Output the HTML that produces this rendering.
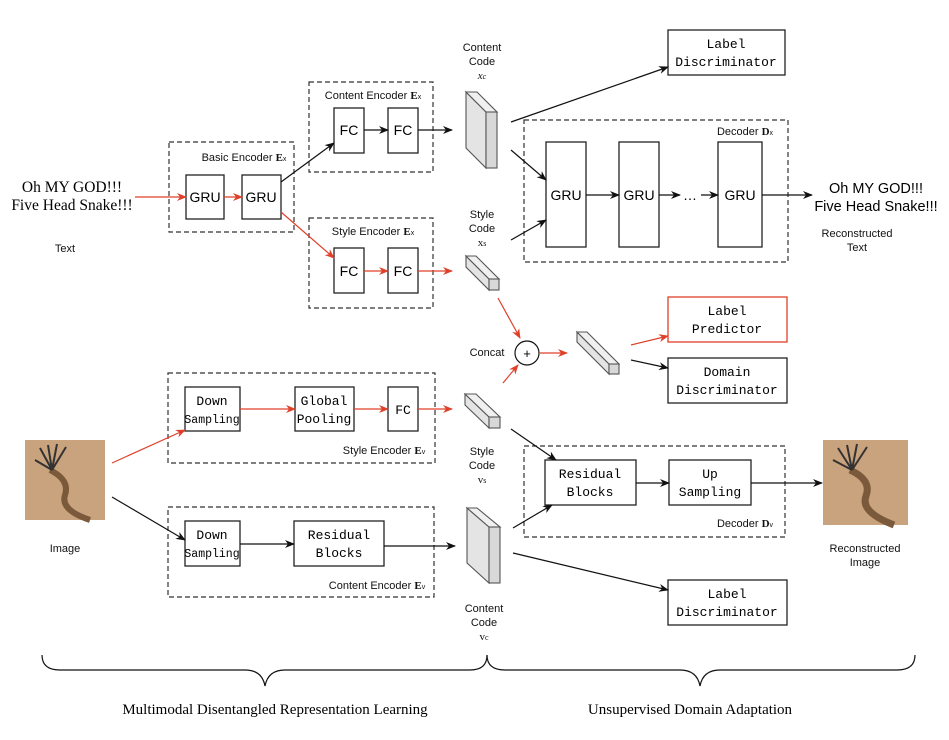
<!DOCTYPE html>
<html><head><meta charset="utf-8"><style>
body{margin:0;background:#fff}
svg{display:block}
.s{font-family:"Liberation Sans",sans-serif}
.m{font-family:"Liberation Mono",monospace}
.r{font-family:"Liberation Serif",serif}
</style></head><body>
<svg width="949" height="740" viewBox="0 0 949 740" xmlns="http://www.w3.org/2000/svg">
<defs>
<marker id="ab" markerWidth="10" markerHeight="8" refX="9" refY="4" orient="auto" markerUnits="userSpaceOnUse"><path d="M0,0 L10,4 L0,8 L3,4z" fill="#111"/></marker>
<marker id="ar" markerWidth="10" markerHeight="8" refX="9" refY="4" orient="auto" markerUnits="userSpaceOnUse"><path d="M0,0 L10,4 L0,8 L3,4z" fill="#e0402a"/></marker>
</defs>
<g fill="none" stroke="#333" stroke-width="1.2" stroke-dasharray="5,3">
<rect x="169" y="142" width="125" height="90"/>
<rect x="309" y="82" width="124" height="90"/>
<rect x="309" y="218" width="124" height="90"/>
<rect x="524" y="120" width="264" height="142"/>
<rect x="168" y="373" width="267" height="90"/>
<rect x="168" y="507" width="266" height="90"/>
<rect x="524" y="446" width="261" height="91"/>
</g>
<g fill="#fff" stroke="#222" stroke-width="1.3">
<rect x="186" y="175" width="38" height="44"/><rect x="242" y="175" width="39" height="44"/>
<rect x="334" y="108" width="30" height="45"/><rect x="388" y="108" width="30" height="45"/>
<rect x="334" y="248" width="30" height="45"/><rect x="388" y="248" width="30" height="45"/>
<rect x="546" y="142" width="40" height="105"/><rect x="619" y="142" width="40" height="105"/><rect x="718" y="142" width="44" height="105"/>
<rect x="668" y="30" width="117" height="45"/>
<rect x="668" y="297" width="119" height="45" stroke="#e0402a"/>
<rect x="668" y="358" width="119" height="45"/>
<rect x="668" y="580" width="119" height="45"/>
<rect x="185" y="387" width="55" height="44"/><rect x="295" y="387" width="59" height="44"/><rect x="388" y="387" width="30" height="44"/>
<rect x="185" y="521" width="55" height="45"/><rect x="294" y="521" width="90" height="45"/>
<rect x="545" y="460" width="91" height="45"/><rect x="669" y="460" width="82" height="45"/>
</g>
<g stroke="#555" stroke-width="1.1">
<path d="M466,92 L486,112 L486,168 L466,148z" fill="#e4e4e4"/><path d="M466,92 L477,92 L497,112 L486,112z" fill="#f0f0f0"/><rect x="486" y="112" width="11" height="56" fill="#d8d8d8"/>
<path d="M466,256 L489,279 L489,290 L466,267z" fill="#e4e4e4"/><path d="M466,256 L476,256 L499,279 L489,279z" fill="#f0f0f0"/><rect x="489" y="279" width="10" height="11" fill="#d8d8d8"/>
<path d="M577,332 L609,364 L609,374 L577,342z" fill="#e4e4e4"/><path d="M577,332 L587,332 L619,364 L609,364z" fill="#f0f0f0"/><rect x="609" y="364" width="10" height="10" fill="#d8d8d8"/>
<path d="M465,394 L489,417 L489,428 L465,405z" fill="#e4e4e4"/><path d="M465,394 L476,394 L500,417 L489,417z" fill="#f0f0f0"/><rect x="489" y="417" width="11" height="11" fill="#d8d8d8"/>
<path d="M467,508 L489,527 L489,583 L467,563z" fill="#e4e4e4"/><path d="M467,508 L477,508 L500,527 L489,527z" fill="#f0f0f0"/><rect x="489" y="527" width="11" height="56" fill="#d8d8d8"/>
</g>
<circle cx="527" cy="353" r="12" fill="#fff" stroke="#111" stroke-width="1.2"/>
<text x="527" y="358" class="s" font-size="13" text-anchor="middle">+</text>
<g stroke="#111" stroke-width="1.2" marker-end="url(#ab)">
<line x1="281" y1="182" x2="334" y2="143"/>
<line x1="364" y1="130" x2="388" y2="130"/><line x1="418" y1="130" x2="452" y2="130"/>
<line x1="511" y1="122" x2="668" y2="67"/>
<line x1="511" y1="150" x2="546" y2="180"/>
<line x1="511" y1="240" x2="546" y2="220"/>
<line x1="586" y1="195" x2="619" y2="195"/><line x1="659" y1="195" x2="680" y2="195"/><line x1="701" y1="195" x2="718" y2="195"/>
<line x1="762" y1="195" x2="812" y2="195"/>
<line x1="631" y1="360" x2="668" y2="368"/>
<line x1="112" y1="497" x2="185" y2="540"/>
<line x1="240" y1="544" x2="294" y2="544"/><line x1="384" y1="546" x2="455" y2="546"/>
<line x1="511" y1="429" x2="556" y2="460"/>
<line x1="513" y1="528" x2="552" y2="505"/>
<line x1="513" y1="553" x2="668" y2="590"/>
<line x1="636" y1="483" x2="669" y2="483"/><line x1="751" y1="483" x2="822" y2="483"/>
</g>
<g stroke="#e0402a" stroke-width="1.2" marker-end="url(#ar)">
<line x1="135" y1="197" x2="186" y2="197"/>
<line x1="224" y1="197" x2="242" y2="197"/>
<line x1="281" y1="212" x2="334" y2="258"/>
<line x1="364" y1="271" x2="388" y2="271"/><line x1="418" y1="271" x2="452" y2="271"/>
<line x1="498" y1="298" x2="520" y2="338"/>
<line x1="503" y1="383" x2="518" y2="365"/>
<line x1="540" y1="353" x2="567" y2="353"/>
<line x1="631" y1="345" x2="668" y2="336"/>
<line x1="112" y1="463" x2="185" y2="430"/>
<line x1="240" y1="409" x2="295" y2="409"/><line x1="354" y1="409" x2="388" y2="409"/><line x1="418" y1="409" x2="452" y2="409"/>
</g>
<g>
<rect x="25" y="440" width="80" height="80" fill="#c9a27e"/>
<path d="M50,470 Q70,480 65,495 Q60,510 90,520" stroke="#7a5a3a" stroke-width="6" fill="none"/>
<g stroke="#333" stroke-width="2"><line x1="52" y1="470" x2="40" y2="448"/><line x1="52" y1="470" x2="48" y2="445"/><line x1="52" y1="470" x2="57" y2="444"/><line x1="52" y1="470" x2="66" y2="447"/><line x1="52" y1="470" x2="35" y2="460"/></g>
<rect x="823" y="440" width="85" height="85" fill="#c9a27e"/>
<path d="M850,470 Q872,480 866,496 Q860,512 894,525" stroke="#7a5a3a" stroke-width="7" fill="none"/>
<g stroke="#333" stroke-width="2"><line x1="852" y1="470" x2="838" y2="448"/><line x1="852" y1="470" x2="847" y2="445"/><line x1="852" y1="470" x2="857" y2="444"/><line x1="852" y1="470" x2="867" y2="447"/><line x1="852" y1="470" x2="833" y2="460"/></g>
</g>
<g fill="none" stroke="#111" stroke-width="1.2">
<path d="M42,655 Q42,670 60,670 L245,670 Q262,670 265,686 Q268,670 285,670 L470,670 Q487,670 487,655"/>
<path d="M487,655 Q487,670 505,670 L680,670 Q697,670 700,686 Q703,670 720,670 L897,670 Q915,670 915,655"/>
</g>
<g class="r" font-size="15.5" text-anchor="middle">
<text x="72" y="192">Oh MY GOD!!!</text><text x="72" y="210">Five Head Snake!!!</text>
</g>
<g class="s" font-size="14.5" text-anchor="middle">
<text x="876" y="193">Oh MY GOD!!!</text><text x="876" y="211">Five Head Snake!!!</text>
</g>
<g class="s" font-size="11" text-anchor="middle" fill="#111">
<text x="65" y="252">Text</text>
<text x="65" y="552">Image</text>
<text x="857" y="237">Reconstructed</text><text x="857" y="251">Text</text>
<text x="865" y="552">Reconstructed</text><text x="865" y="566">Image</text>
<text x="482" y="51">Content</text><text x="482" y="65">Code</text><text x="482" y="79" class="r" font-style="italic">x<tspan font-size="8">c</tspan></text>
<text x="482" y="218">Style</text><text x="482" y="232">Code</text><text x="482" y="246" class="r">x<tspan font-size="8">s</tspan></text>
<text x="482" y="455">Style</text><text x="482" y="469">Code</text><text x="482" y="483" class="r">v<tspan font-size="8">s</tspan></text>
<text x="484" y="612">Content</text><text x="484" y="626">Code</text><text x="484" y="640" class="r">v<tspan font-size="8">c</tspan></text>
<text x="487" y="356">Concat</text>
<text x="244" y="161">Basic Encoder <tspan class="r" font-weight="bold">E</tspan><tspan font-size="7">x</tspan></text>
<text x="373" y="99">Content Encoder <tspan class="r" font-weight="bold">E</tspan><tspan font-size="7">x</tspan></text>
<text x="373" y="235">Style Encoder <tspan class="r" font-weight="bold">E</tspan><tspan font-size="7">x</tspan></text>
<text x="384" y="454">Style Encoder <tspan class="r" font-weight="bold">E</tspan><tspan font-size="7">v</tspan></text>
<text x="377" y="589">Content Encoder <tspan class="r" font-weight="bold">E</tspan><tspan font-size="7">v</tspan></text>
<text x="745" y="135">Decoder <tspan class="r" font-weight="bold">D</tspan><tspan font-size="7">x</tspan></text>
<text x="745" y="527">Decoder <tspan class="r" font-weight="bold">D</tspan><tspan font-size="7">v</tspan></text>
</g>
<g class="s" font-size="14" text-anchor="middle">
<text x="205" y="202">GRU</text><text x="261" y="202">GRU</text>
<text x="349" y="135">FC</text><text x="403" y="135">FC</text>
<text x="349" y="276">FC</text><text x="403" y="276">FC</text>
<text x="566" y="200">GRU</text><text x="639" y="200">GRU</text><text x="740" y="200">GRU</text>
<text x="690" y="200">…</text>
</g>
<g class="m" font-size="13" text-anchor="middle">
<text x="726" y="48">Label</text><text x="726" y="66">Discriminator</text>
<text x="727" y="315">Label</text><text x="727" y="333">Predictor</text>
<text x="727" y="376">Domain</text><text x="727" y="394">Discriminator</text>
<text x="727" y="598">Label</text><text x="727" y="616">Discriminator</text>
<text x="212" y="405">Down</text><text x="212" y="423" font-size="11.5">Sampling</text>
<text x="324" y="405">Global</text><text x="324" y="423">Pooling</text>
<text x="403" y="414">FC</text>
<text x="212" y="539">Down</text><text x="212" y="557" font-size="11.5">Sampling</text>
<text x="339" y="539">Residual</text><text x="339" y="557">Blocks</text>
<text x="590" y="478">Residual</text><text x="590" y="496">Blocks</text>
<text x="710" y="478">Up</text><text x="710" y="496">Sampling</text>
</g>
<g class="r" font-size="15" text-anchor="middle">
<text x="275" y="714">Multimodal Disentangled Representation Learning</text>
<text x="690" y="714">Unsupervised Domain Adaptation</text>
</g>
</svg>
</body></html>
